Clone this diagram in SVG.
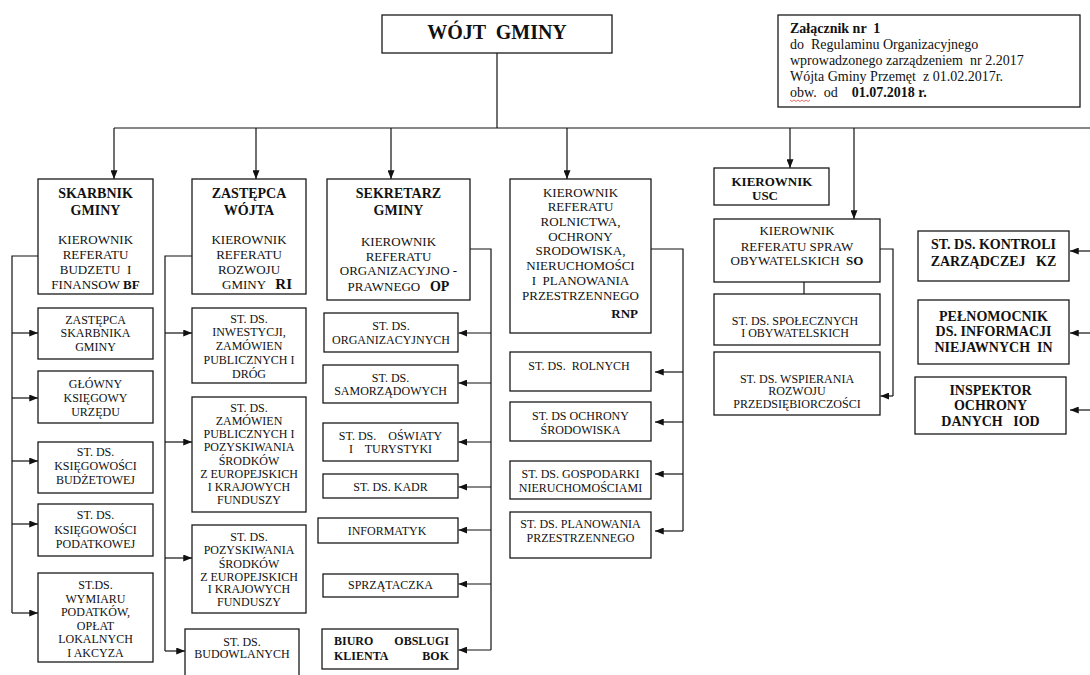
<svg xmlns="http://www.w3.org/2000/svg" width="1090" height="675" viewBox="0 0 1090 675">
<style>
.box{fill:#fff;stroke:#1a1a1a;stroke-width:1.3}
text{font-family:"Liberation Serif","Times New Roman",serif;fill:#111;text-anchor:middle}
.s{font-size:12px}
.m{font-size:13px}
.h{font-size:14px;font-weight:bold}
.b{font-weight:bold}
.l{text-anchor:start}
.e{text-anchor:end}
.z{font-size:14px}
.c{fill:none;stroke:#111;stroke-width:1.2}
.a{marker-end:url(#ah)}
</style>
<defs>
<marker id="ah" viewBox="0 0 10 8" refX="10" refY="4" markerWidth="9" markerHeight="7" markerUnits="userSpaceOnUse" orient="auto"><path d="M0,0 L10,4 L0,8 z" fill="#111"/></marker>
</defs>
<rect width="1090" height="675" fill="#fff"/>

<g id="connectors" class="c">
<path d="M497,53 V128"/>
<path d="M114,128 H1090"/>
<path class="a" d="M114,128 V179"/>
<path class="a" d="M256,128 V179"/>
<path class="a" d="M391,128 V179"/>
<path class="a" d="M567,128 V179"/>
<path class="a" d="M790,128 V168"/>
<path class="a" d="M854,128 V219"/>
<path d="M38,256 H12 V613"/>
<path class="a" d="M12,333 H38"/>
<path class="a" d="M12,398 H38"/>
<path class="a" d="M12,461 H38"/>
<path class="a" d="M12,524 H38"/>
<path class="a" d="M12,613 H38"/>
<path d="M192,256 H165 V651"/>
<path class="a" d="M165,333 H192"/>
<path class="a" d="M165,442 H192"/>
<path class="a" d="M165,558 H192"/>
<path class="a" d="M165,651 H185"/>
<path d="M470,249 H491 V650"/>
<path class="a" d="M491,333 H458.5"/>
<path class="a" d="M491,383 H458.5"/>
<path class="a" d="M491,442 H458.5"/>
<path class="a" d="M491,487 H458.5"/>
<path class="a" d="M491,530 H458.5"/>
<path class="a" d="M491,584 H458.5"/>
<path class="a" d="M491,650 H458.5"/>
<path d="M651,249 H683 V531"/>
<path class="a" d="M683,372 H655"/>
<path class="a" d="M683,422 H655"/>
<path class="a" d="M683,474 H655"/>
<path class="a" d="M683,531 H655"/>
<path d="M804,282 V294"/>
<path d="M880,249 H893 V396"/>
<path class="a" d="M893,396 H880.5"/>
<path class="a" d="M1090,251 H1070"/>
<path class="a" d="M1090,333 H1070"/>
<path class="a" d="M1090,410 H1070"/>
</g>

<g id="n-wojt">
<rect class="box" x="382" y="15" width="230" height="38"/>
<text x="497" y="39" font-size="20" font-weight="bold" xml:space="preserve">WÓJT  GMINY</text>
</g>

<g id="n-zalacznik">
<rect class="box" x="778" y="15" width="302" height="92"/>
<text class="l z b" x="790" y="33" xml:space="preserve">Załącznik nr  1</text>
<text class="l z" x="790" y="49" xml:space="preserve">do  Regulaminu Organizacyjnego</text>
<text class="l z" x="790" y="65" xml:space="preserve">wprowadzonego zarządzeniem  nr 2.2017</text>
<text class="l z" x="790" y="81" xml:space="preserve">Wójta Gminy Przemęt  z 01.02.2017r.</text>
<text class="l z" x="790" y="97" xml:space="preserve">obw.  od    <tspan font-weight="bold">01.07.2018 r.</tspan></text>
<path d="M790,100 l2,1.5 l2,-1.5 l2,1.5 l2,-1.5 l2,1.5 l2,-1.5 l2,1.5 l2,-1.5 l2,1.5 l2,-1.5" fill="none" stroke="#e04848" stroke-width="0.8"/>
</g>

<g id="n-skarbnik">
<rect class="box" x="38" y="179" width="115" height="115"/>
<text class="h" x="95.5" y="198">SKARBNIK</text>
<text class="h" x="95.5" y="215">GMINY</text>
<text class="m" x="95.5" y="244">KIEROWNIK</text>
<text class="m" x="95.5" y="259">REFERATU</text>
<text class="m" x="95.5" y="274" xml:space="preserve">BUDZETU  I</text>
<text class="m" x="95.5" y="289">FINANSOW <tspan class="b">BF</tspan></text>
</g>
<g id="n-zast-skarbnika">
<rect class="box" x="38" y="308" width="115" height="51"/>
<text class="s" x="95.5" y="324">ZASTĘPCA</text>
<text class="s" x="95.5" y="337">SKARBNIKA</text>
<text class="s" x="95.5" y="351">GMINY</text>
</g>
<g id="n-glowny-ksiegowy">
<rect class="box" x="38" y="371" width="115" height="52"/>
<text class="s" x="95.5" y="388">GŁÓWNY</text>
<text class="s" x="95.5" y="402">KSIĘGOWY</text>
<text class="s" x="95.5" y="416">URZĘDU</text>
</g>
<g id="n-ksieg-budzetowej">
<rect class="box" x="38" y="442" width="115" height="51"/>
<text class="s" x="95.5" y="456">ST. DS.</text>
<text class="s" x="95.5" y="470">KSIĘGOWOŚCI</text>
<text class="s" x="95.5" y="484">BUDŻETOWEJ</text>
</g>
<g id="n-ksieg-podatkowej">
<rect class="box" x="38" y="504" width="115" height="52"/>
<text class="s" x="95.5" y="519">ST. DS.</text>
<text class="s" x="95.5" y="534">KSIĘGOWOŚCI</text>
<text class="s" x="95.5" y="548">PODATKOWEJ</text>
</g>
<g id="n-wymiaru">
<rect class="box" x="38" y="573" width="115" height="89"/>
<text class="s" x="95.5" y="589">ST.DS.</text>
<text class="s" x="95.5" y="602.5">WYMIARU</text>
<text class="s" x="95.5" y="616">PODATKÓW,</text>
<text class="s" x="95.5" y="629.5">OPŁAT</text>
<text class="s" x="95.5" y="643">LOKALNYCH</text>
<text class="s" x="95.5" y="656.5">I AKCYZA</text>
</g>

<g id="n-zast-wojta">
<rect class="box" x="192" y="179" width="114" height="115"/>
<text class="h" x="249" y="198">ZASTĘPCA</text>
<text class="h" x="249" y="215">WÓJTA</text>
<text class="m" x="249" y="244">KIEROWNIK</text>
<text class="m" x="249" y="259">REFERATU</text>
<text class="m" x="249" y="274">ROZWOJU</text>
<text class="m" x="257" y="289" xml:space="preserve">GMINY   <tspan class="b" font-size="15">RI</tspan></text>
</g>
<g id="n-inwestycji">
<rect class="box" x="192" y="308" width="114" height="75"/>
<text class="s" x="249" y="322.5">ST. DS.</text>
<text class="s" x="249" y="336">INWESTYCJI,</text>
<text class="s" x="249" y="349.5">ZAMÓWIEN</text>
<text class="s" x="249" y="363.5">PUBLICZNYCH I</text>
<text class="s" x="249" y="377.5">DRÓG</text>
</g>
<g id="n-zamowien">
<rect class="box" x="192" y="397" width="114" height="115"/>
<text class="s" x="249" y="411.5">ST. DS.</text>
<text class="s" x="249" y="424.5">ZAMÓWIEN</text>
<text class="s" x="249" y="438">PUBLICZNYCH I</text>
<text class="s" x="249" y="451">POZYSKIWANIA</text>
<text class="s" x="249" y="464.5">ŚRODKÓW</text>
<text class="s" x="249" y="477.5">Z EUROPEJSKICH</text>
<text class="s" x="249" y="491">I KRAJOWYCH</text>
<text class="s" x="249" y="504">FUNDUSZY</text>
</g>
<g id="n-pozyskiwania">
<rect class="box" x="192" y="525" width="114" height="88"/>
<text class="s" x="249" y="541">ST. DS.</text>
<text class="s" x="249" y="554">POZYSKIWANIA</text>
<text class="s" x="249" y="567.5">ŚRODKÓW</text>
<text class="s" x="249" y="580.5">Z EUROPEJSKICH</text>
<text class="s" x="249" y="593">I KRAJOWYCH</text>
<text class="s" x="249" y="606">FUNDUSZY</text>
</g>
<g id="n-budowlanych">
<rect class="box" x="185" y="629" width="114" height="60"/>
<text class="s" x="242" y="646">ST. DS.</text>
<text class="s" x="242" y="658">BUDOWLANYCH</text>
</g>

<g id="n-sekretarz">
<rect class="box" x="327" y="179" width="143" height="121"/>
<text class="h" x="398.5" y="198">SEKRETARZ</text>
<text class="h" x="398.5" y="215">GMINY</text>
<text class="m" x="398.5" y="245.5">KIEROWNIK</text>
<text class="m" x="398.5" y="260.5">REFERATU</text>
<text class="m" x="398.5" y="275">ORGANIZACYJNO -</text>
<text class="m" x="398.5" y="291" xml:space="preserve">PRAWNEGO   <tspan class="b" font-size="14">OP</tspan></text>
</g>
<g id="n-organizacyjnych">
<rect class="box" x="324" y="313" width="134" height="39"/>
<text class="s" x="391" y="329.5">ST. DS.</text>
<text class="s" x="391" y="344">ORGANIZACYJNYCH</text>
</g>
<g id="n-samorzadowych">
<rect class="box" x="323" y="365" width="135" height="38"/>
<text class="s" x="390.5" y="381.5">ST. DS.</text>
<text class="s" x="390.5" y="395">SAMORZĄDOWYCH</text>
</g>
<g id="n-oswiaty">
<rect class="box" x="323" y="423" width="135" height="38"/>
<text class="s" x="390.5" y="440" xml:space="preserve">ST. DS.    OŚWIATY</text>
<text class="s" x="390.5" y="452.5" xml:space="preserve">I    TURYSTYKI</text>
</g>
<g id="n-kadr">
<rect class="box" x="323" y="474" width="135" height="24"/>
<text class="s" x="390.5" y="491">ST. DS. KADR</text>
</g>
<g id="n-informatyk">
<rect class="box" x="318" y="518" width="140" height="25"/>
<text class="s" x="387" y="534.5">INFORMATYK</text>
</g>
<g id="n-sprzataczka">
<rect class="box" x="323" y="574" width="135" height="23"/>
<text class="s" x="390.5" y="588.5">SPRZĄTACZKA</text>
</g>
<g id="n-bok">
<rect class="box" x="322" y="629" width="136" height="40"/>
<text class="s b l" x="334" y="645">BIURO</text>
<text class="s b e" x="449" y="645">OBSLUGI</text>
<text class="s b l" x="334" y="659.5">KLIENTA</text>
<text class="s b e" x="449" y="659.5">BOK</text>
</g>

<g id="n-rnp">
<rect class="box" x="510" y="179" width="141" height="154"/>
<text class="m" x="580.5" y="197">KIEROWNIK</text>
<text class="m" x="580.5" y="211">REFERATU</text>
<text class="m" x="580.5" y="226">ROLNICTWA,</text>
<text class="m" x="580.5" y="241">OCHRONY</text>
<text class="m" x="580.5" y="255">SRODOWISKA,</text>
<text class="m" x="580.5" y="270">NIERUCHOMOŚCI</text>
<text class="m" x="580.5" y="284.5" xml:space="preserve">I  PLANOWANIA</text>
<text class="m" x="580.5" y="299.5">PRZESTRZENNEGO</text>
<text class="m b e" x="638" y="318">RNP</text>
</g>
<g id="n-rolnych">
<rect class="box" x="510" y="352" width="141" height="39"/>
<text class="s" x="579" y="370" xml:space="preserve">ST. DS.  ROLNYCH</text>
</g>
<g id="n-ochrony">
<rect class="box" x="510" y="402" width="141" height="39"/>
<text class="s" x="580.5" y="420">ST. DS OCHRONY</text>
<text class="s" x="580.5" y="434">ŚRODOWISKA</text>
</g>
<g id="n-gospodarki">
<rect class="box" x="510" y="461" width="141" height="38"/>
<text class="s" x="580.5" y="477.5">ST. DS. GOSPODARKI</text>
<text class="s" x="580.5" y="492">NIERUCHOMOŚCIAMI</text>
</g>
<g id="n-planowania">
<rect class="box" x="510" y="512" width="141" height="46"/>
<text class="s" x="580.5" y="528">ST. DS. PLANOWANIA</text>
<text class="s" x="580.5" y="541.5">PRZESTRZENNEGO</text>
</g>

<g id="n-usc">
<rect class="box" x="714" y="168" width="115" height="37"/>
<text class="m b l" x="731.5" y="185.5">KIEROWNIK</text>
<text class="m b l" x="752" y="199.5">USC</text>
</g>
<g id="n-so">
<rect class="box" x="714" y="219" width="166" height="63"/>
<text class="m" x="797" y="234.5">KIEROWNIK</text>
<text class="m" x="797" y="250.5">REFERATU SPRAW</text>
<text class="m" x="797" y="264.5" xml:space="preserve">OBYWATELSKICH  <tspan class="b">SO</tspan></text>
</g>
<g id="n-spolecznych">
<rect class="box" x="714" y="294" width="166" height="51"/>
<text class="s" x="795" y="325">ST. DS. SPOŁECZNYCH</text>
<text class="s" x="795" y="337">I OBYWATELSKICH</text>
</g>
<g id="n-wspierania">
<rect class="box" x="714" y="352" width="166" height="63"/>
<text class="s" x="797" y="382.5">ST. DS. WSPIERANIA</text>
<text class="s" x="797" y="395">ROZWOJU</text>
<text class="s" x="797" y="408">PRZEDSIĘBIORCZOŚCI</text>
</g>

<g id="n-kz">
<rect class="box" x="918" y="231" width="151" height="50"/>
<text class="h" x="993.5" y="248.5">ST. DS. KONTROLI</text>
<text class="h" x="993.5" y="266" xml:space="preserve">ZARZĄDCZEJ   KZ</text>
</g>
<g id="n-in">
<rect class="box" x="918" y="300" width="151" height="64"/>
<text class="h" x="993.5" y="320.5">PEŁNOMOCNIK</text>
<text class="h" x="993.5" y="336">DS. INFORMACJI</text>
<text class="h" x="993.5" y="351.5" xml:space="preserve">NIEJAWNYCH  IN</text>
</g>
<g id="n-iod">
<rect class="box" x="915" y="377" width="151" height="57"/>
<text class="h" x="990.5" y="394.5">INSPEKTOR</text>
<text class="h" x="990.5" y="410">OCHRONY</text>
<text class="h" x="990.5" y="425.5" xml:space="preserve">DANYCH   IOD</text>
</g>
</svg>
